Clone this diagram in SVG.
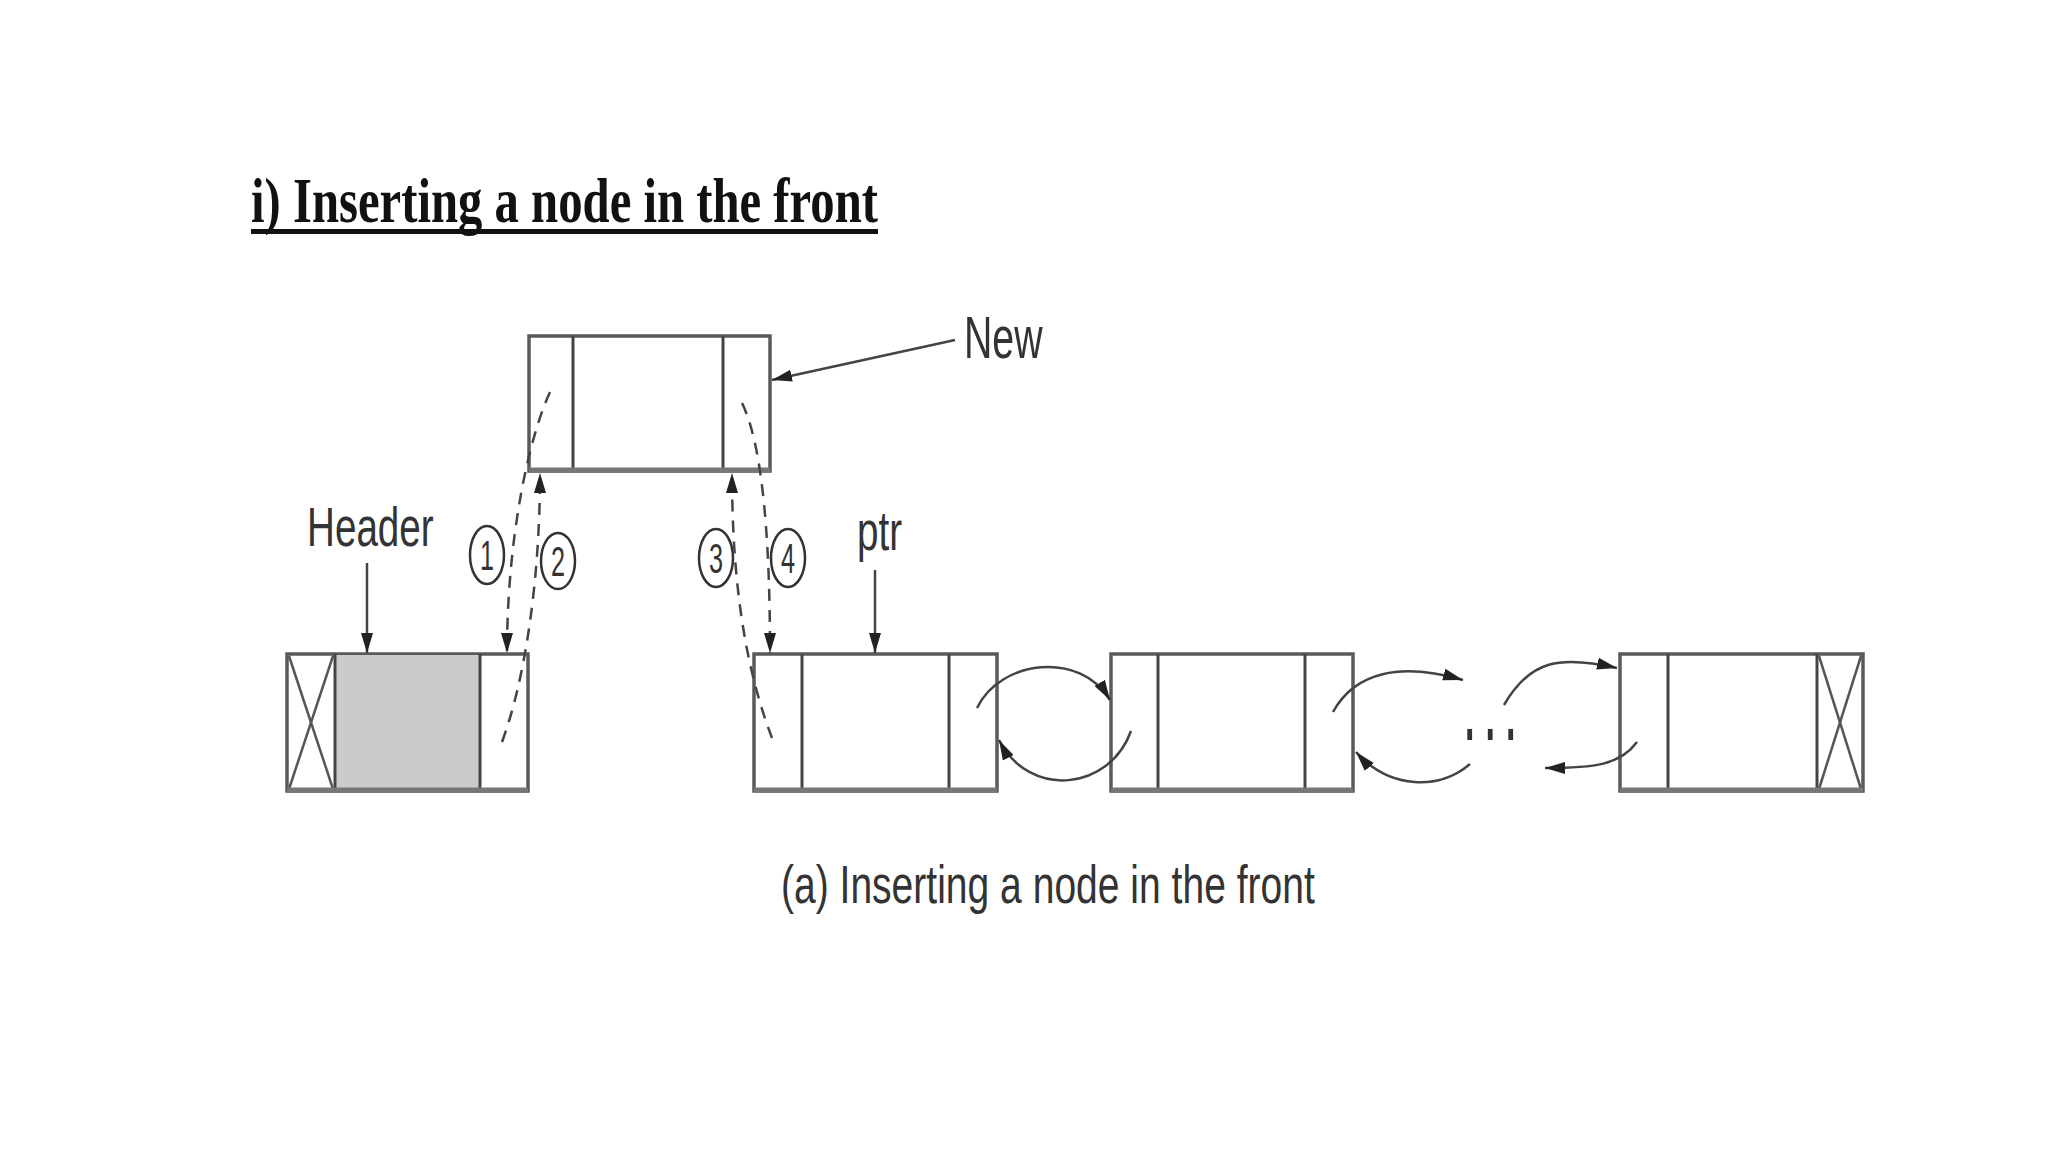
<svg xmlns="http://www.w3.org/2000/svg" width="2048" height="1152" viewBox="0 0 2048 1152">
<defs>
<style>
.box{fill:#fff;stroke:#5a5a5a;stroke-width:3.5}
.div{stroke:#444;stroke-width:3}
.xl{stroke:#555;stroke-width:2.5}
.lbl{font-family:"Liberation Sans",Arial,sans-serif;fill:#333}
.num{font-family:"Liberation Sans",Arial,sans-serif;fill:#333;font-size:42px;text-anchor:middle}
.circ{fill:none;stroke:#333;stroke-width:2.5}
.dash{fill:none;stroke:#444;stroke-width:2.5;stroke-dasharray:12 9;marker-end:url(#ah)}
.solid{fill:none;stroke:#444;stroke-width:2.5;marker-end:url(#ah)}
</style>
<marker id="ah" markerUnits="userSpaceOnUse" markerWidth="22" markerHeight="14" refX="20" refY="7" orient="auto">
<path d="M0,1 L20,7 L0,13 z" fill="#222"/>
</marker>
</defs>
<rect width="2048" height="1152" fill="#fff"/>

<g id="title">
<text x="251" y="222" font-family="'Liberation Serif','Times New Roman',serif" font-weight="bold" font-size="64" textLength="627" lengthAdjust="spacingAndGlyphs" fill="#111">i) Inserting a node in the front</text>
<rect x="251" y="229" width="627" height="5" fill="#111"/>
</g>

<g id="header-node">
<rect class="box" x="287" y="654" width="241" height="137"/>
<rect x="335" y="655" width="145" height="135" fill="#cbcbcb"/>
<line class="div" x1="335" y1="654" x2="335" y2="791"/>
<line class="div" x1="480" y1="654" x2="480" y2="791"/>
<line class="xl" x1="289" y1="656" x2="333" y2="789"/>
<line class="xl" x1="333" y1="656" x2="289" y2="789"/>
<line x1="287" y1="790" x2="528" y2="790" stroke="#777" stroke-width="5"/>
</g>

<g id="new-node">
<rect class="box" x="529" y="336" width="241" height="135"/>
<line class="div" x1="573" y1="336" x2="573" y2="471"/>
<line class="div" x1="723" y1="336" x2="723" y2="471"/>
<line x1="529" y1="470" x2="770" y2="470" stroke="#777" stroke-width="5"/>
</g>

<g id="ptr-node">
<rect class="box" x="754" y="654" width="243" height="137"/>
<line class="div" x1="802" y1="654" x2="802" y2="791"/>
<line class="div" x1="949" y1="654" x2="949" y2="791"/>
<line x1="754" y1="790" x2="997" y2="790" stroke="#777" stroke-width="5"/>
</g>

<g id="node-3">
<rect class="box" x="1111" y="654" width="242" height="137"/>
<line class="div" x1="1158" y1="654" x2="1158" y2="791"/>
<line class="div" x1="1305" y1="654" x2="1305" y2="791"/>
<line x1="1111" y1="790" x2="1353" y2="790" stroke="#777" stroke-width="5"/>
</g>

<g id="last-node">
<rect class="box" x="1620" y="654" width="243" height="137"/>
<line class="div" x1="1668" y1="654" x2="1668" y2="791"/>
<line class="div" x1="1817" y1="654" x2="1817" y2="791"/>
<line class="xl" x1="1819" y1="656" x2="1861" y2="789"/>
<line class="xl" x1="1861" y1="656" x2="1819" y2="789"/>
<line x1="1620" y1="790" x2="1863" y2="790" stroke="#777" stroke-width="5"/>
</g>

<g id="labels">
<text class="lbl" transform="translate(307,546) scale(0.69,1)" font-size="56">Header</text>
<text class="lbl" transform="translate(964,358) scale(0.655,1)" font-size="60">New</text>
<text class="lbl" transform="translate(857,550) scale(0.69,1)" font-size="56">ptr</text>
<text class="lbl" transform="translate(781,903) scale(0.723,1)" font-size="54">(a) Inserting a node in the front</text>
<text class="lbl" transform="translate(1465,740) scale(1,2.2)" font-size="34" font-weight="bold" letter-spacing="11">...</text>
</g>

<g id="step-1"><ellipse class="circ" cx="487" cy="555" rx="17" ry="29"/><text class="num" transform="translate(487,570) scale(0.6,1)">1</text></g>
<g id="step-2"><ellipse class="circ" cx="558" cy="561" rx="17" ry="28"/><text class="num" transform="translate(558,576) scale(0.6,1)">2</text></g>
<g id="step-3"><ellipse class="circ" cx="716" cy="558" rx="17" ry="29"/><text class="num" transform="translate(716,573) scale(0.6,1)">3</text></g>
<g id="step-4"><ellipse class="circ" cx="788" cy="558" rx="17" ry="29"/><text class="num" transform="translate(788,573) scale(0.6,1)">4</text></g>

<g id="connectors">
<line class="solid" x1="367" y1="563" x2="367" y2="653"/>
<line class="solid" x1="875" y1="570" x2="875" y2="653"/>
<line class="solid" x1="955" y1="340" x2="772" y2="380"/>
<path class="dash" d="M550,392 C528,440 507,540 507,653"/>
<path class="dash" d="M502,742 C525,680 540,580 540,473"/>
<path class="dash" d="M772,738 C750,680 732,600 732,473"/>
<path class="dash" d="M742,403 C760,440 770,520 770,653"/>
<path class="solid" d="M977,708 C1000,660 1080,650 1110,700"/>
<path class="solid" d="M1131,731 C1110,790 1030,800 999,740"/>
<path class="solid" d="M1333,712 C1355,672 1400,662 1463,680"/>
<path class="solid" d="M1470,764 C1440,790 1390,790 1356,752"/>
<path class="solid" d="M1504,705 C1530,660 1560,655 1617,668"/>
<path class="solid" d="M1637,742 C1620,765 1595,768 1545,768"/>
</g>
</svg>
